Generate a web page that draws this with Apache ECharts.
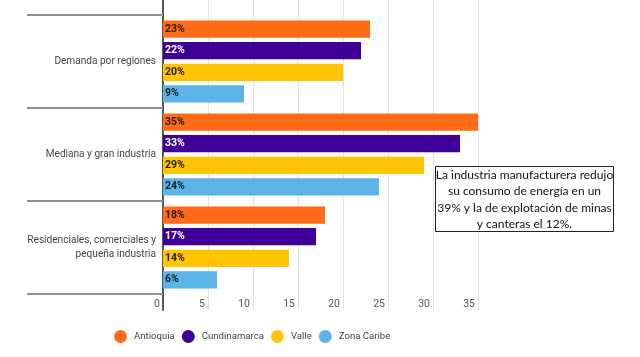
<!DOCTYPE html>
<html><head><meta charset="utf-8">
<script src="https://cdn.jsdelivr.net/npm/echarts@6/dist/echarts.min.js"></script>
<style>html,body{margin:0;padding:0;background:#fff}#c{width:640px;height:357px}</style>
</head><body><div id="c"></div>
<script>
const categories = ['Demanda por regiones', 'Mediana y gran industria', 'Residenciales, comerciales y\npequeña industria'];
const seriesNames = ['Antioquia', 'Cundinamarca', 'Valle', 'Zona Caribe'];
const antioquia = [23, 35, 18];
const cundinamarca = [22, 33, 17];
const valle = [20, 29, 14];
const zonaCaribe = [9, 24, 6];
const xTicks = [0, 5, 10, 15, 20, 25, 30, 35];
const note = 'La industria manufacturera redujo\nsu consumo de energía en un\n39% y la de explotación de minas\ny canteras el 12%.';

const colors = ['#ff6b17', '#3e0097', '#ffc502', '#5bb4e5'];
const labelColors = ['#2a1a10', '#ffffff', '#2a2010', '#10202a'];
const values = [antioquia, cundinamarca, valle, zonaCaribe];

const chart = echarts.init(document.getElementById('c'));
const FONT = 'Roboto';
chart.setOption({
  animation: false,
  textStyle: { fontFamily: FONT },
  grid: [
    { left: 163, right: 162, top: 15, bottom: 63 },
    { left: 163, right: 162, top: 0, bottom: 47 }
  ],
  legend: {
    top: 325, left: 109,
    icon: 'circle', itemWidth: 13, itemHeight: 13, itemGap: 7,
    textStyle: { fontFamily: FONT, fontSize: 9.6, color: '#444', padding: [0, 0, 0, 2] },
    data: seriesNames
  },
  xAxis: [
    {
      gridIndex: 0, type: 'value', min: xTicks[0], max: xTicks[xTicks.length - 1], interval: 5,
      axisLine: { show: false }, axisTick: { show: false }, splitLine: { show: false },
      axisLabel: { fontFamily: FONT, fontSize: 10.5, color: '#555', align: 'right', margin: 5, padding: [0, 3, 0, 0] }
    },
    {
      gridIndex: 1, type: 'value', min: xTicks[0], max: xTicks[xTicks.length - 1], interval: 5,
      axisLine: { show: false }, axisTick: { show: false }, axisLabel: { show: false },
      splitLine: { show: true, lineStyle: { color: '#e2e2e2', width: 1 } }
    }
  ],
  yAxis: [
    {
      gridIndex: 0, type: 'category', data: categories, inverse: true,
      axisLine: { show: false },
      axisTick: { show: true, length: 136, interval: 0, lineStyle: { color: '#8f8f8f', width: 2 } },
      axisLabel: { fontFamily: FONT, fontSize: 10.1, color: '#444', margin: 7, lineHeight: 14, align: 'right' }
    },
    {
      gridIndex: 1, type: 'value', min: 0, max: 1,
      axisLine: { show: true, onZero: false, lineStyle: { color: '#555', width: 2 } },
      axisTick: { show: false }, axisLabel: { show: false }, splitLine: { show: false }
    }
  ],
  series: seriesNames.map((n, i) => ({
    name: n, type: 'bar', xAxisIndex: 0, yAxisIndex: 0,
    data: values[i],
    barCategoryGap: '12%', barGap: '25%',
    itemStyle: { color: colors[i] },
    label: {
      show: true, position: 'insideLeft', distance: 2,
      formatter: '{c}%', fontFamily: FONT, fontSize: 10.5, fontWeight: 'bold',
      color: labelColors[i]
    }
  })),
  graphic: [{
    type: 'group', left: 435, top: 166, z: 100,
    children: [
      { type: 'rect', z: 100, shape: { x: 0, y: 0, width: 178, height: 65 },
        style: { fill: '#fff', stroke: '#222', lineWidth: 1 } },
      { type: 'text', z: 101, x: 89, y: 33,
        style: { text: note, font: '12px Lato', fill: '#111', align: 'center', verticalAlign: 'middle', lineHeight: 16.5 } }
    ]
  }]
});
</script></body></html>
